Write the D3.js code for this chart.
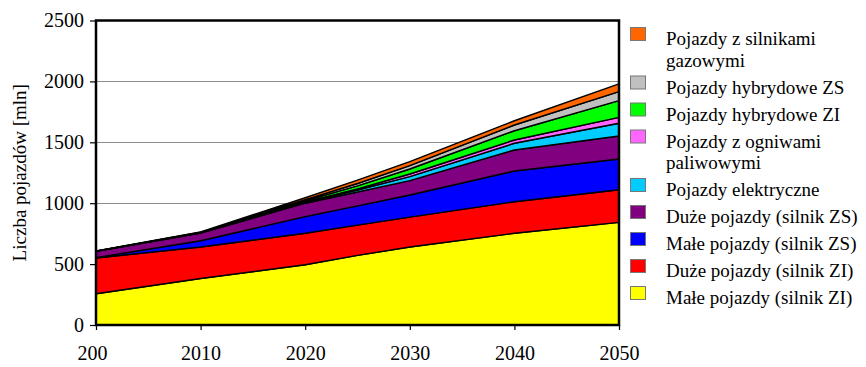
<!DOCTYPE html>
<html>
<head>
<meta charset="utf-8">
<script src="https://cdn.jsdelivr.net/npm/d3@7"></script>
<style>
body { margin:0; background:#fff; }
text { font-family:"Liberation Serif","Times New Roman",serif; fill:#000; }
</style>
</head>
<body>
<div id="chart"></div>
<script>
var w = 866
var h = 367
var margin = {top:20.5, right:247, bottom:42, left:96}

// lata
var years = [2000, 2010, 2020, 2025, 2030, 2040, 2050]

// wartosci [mln], od dolu stosu
var maleZI = [257, 382, 495, 572, 640, 753, 843]
var duzeZI = [293, 258, 258, 248, 246, 259, 267]
var maleZS = [3, 52, 137, 158, 181, 252, 253]
var duzeZS = [52, 63, 110, 114, 118, 173, 189]
var elektryczne = [0, 1, 7, 16, 33, 55, 104]
var ogniwa = [0, 1, 4, 10, 22, 27, 49]
var hybrydoweZI = [1, 2, 9, 24, 41, 76, 137]
var hybrydoweZS = [1, 2, 10, 20, 27, 47, 74]
var gazowe = [2, 4, 15, 28, 34, 35, 63]

var xTicks = [2000, 2010, 2020, 2030, 2040, 2050]
var yTicks = [0, 500, 1000, 1500, 2000, 2500]
var gridValues = [1000, 1500, 2000]

var series = [
	{key:"maleZI", label:["Małe pojazdy (silnik ZI)"], values:maleZI, color:"#ffff00"},
	{key:"duzeZI", label:["Duże pojazdy (silnik ZI)"], values:duzeZI, color:"#ff0000"},
	{key:"maleZS", label:["Małe pojazdy (silnik ZS)"], values:maleZS, color:"#0000ff"},
	{key:"duzeZS", label:["Duże pojazdy (silnik ZS)"], values:duzeZS, color:"#800080"},
	{key:"elektryczne", label:["Pojazdy elektryczne"], values:elektryczne, color:"#00ccff"},
	{key:"ogniwa", label:["Pojazdy z ogniwami","paliwowymi"], values:ogniwa, color:"#ff66ff"},
	{key:"hybrydoweZI", label:["Pojazdy hybrydowe ZI"], values:hybrydoweZI, color:"#00ff00"},
	{key:"hybrydoweZS", label:["Pojazdy hybrydowe ZS"], values:hybrydoweZS, color:"#c0c0c0"},
	{key:"gazowe", label:["Pojazdy z silnikami","gazowymi"], values:gazowe, color:"#ff6600"}
]

var table = years.map(function(y,i){
	var row = {year:y}
	series.forEach(function(s){ row[s.key] = s.values[i] })
	return row
})

var stack = d3.stack().keys(series.map(function(s){return s.key}))
var layers = stack(table)

var x = d3.scaleLinear().domain([2000,2050]).range([margin.left, w-margin.right])
var y = d3.scaleLinear().domain([0,2500]).range([h-margin.bottom, margin.top])

var svg = d3.select("#chart").append("svg").attr("width",w).attr("height",h)

// siatka
svg.selectAll(".grid")
.data(gridValues)
.enter()
.append("line")
.attr("class","grid")
.attr("x1",x(2000)).attr("x2",x(2050))
.attr("y1",function(d){return Math.round(y(d))+0.5})
.attr("y2",function(d){return Math.round(y(d))+0.5})
.attr("stroke","#8c8c8c")
.attr("stroke-width",1.2)

var area = d3.area()
.x(function(d){return x(d.data.year)})
.y0(function(d){return y(d[0])})
.y1(function(d){return y(d[1])})

svg.selectAll(".layer")
.data(layers)
.enter()
.append("path")
.attr("class","layer")
.attr("d",area)
.attr("fill",function(d,i){return series[i].color})
.attr("stroke","#000")
.attr("stroke-width",1.4)
.attr("stroke-linejoin","round")

// ramka
svg.append("rect")
.attr("x",x(2000)).attr("y",y(2500))
.attr("width",x(2050)-x(2000)).attr("height",y(0)-y(2500))
.attr("fill","none")
.attr("stroke","#000")
.attr("stroke-width",2.5)

var yAxis = svg.append("g")
.attr("transform","translate("+x(2000)+",0)")
.call(d3.axisLeft(y).tickValues(yTicks).tickSize(6).tickPadding(6).tickFormat(d3.format("d")))
yAxis.select(".domain").remove()
yAxis.selectAll("text").style("font-size","20px").attr("fill","#000")
yAxis.selectAll("line").attr("stroke","#000").attr("stroke-width",1.2)

var xAxis = svg.append("g")
.attr("transform","translate(0,"+y(0)+")")
.call(d3.axisBottom(x).tickValues(xTicks).tickSize(5).tickPadding(16)
	.tickFormat(function(d){ return d===2000 ? "200" : String(d) }))
xAxis.select(".domain").remove()
xAxis.selectAll("text").style("font-size","20px").attr("fill","#000")
xAxis.selectAll("line").attr("stroke","#000").attr("stroke-width",1.2)
xAxis.selectAll(".tick").filter(function(d){return d===2000}).select("text").attr("dx",-4)

// opis osi Y
svg.append("text")
.attr("transform","translate(26,"+((y(0)+y(2500))/2)+") rotate(-90)")
.attr("text-anchor","middle")
.style("font-size","19px")
.text("Liczba pojazdów [mln]")

// legenda (od gory: odwrotnie niz stos)
var legendItems = series.slice().reverse()
var ly = 27
legendItems.forEach(function(s){
	var g = svg.append("g").attr("transform","translate(630,"+ly+")")
	g.append("rect")
	.attr("x",0.5).attr("y",0.5)
	.attr("width",15).attr("height",13)
	.attr("fill",s.color)
	.attr("stroke","#777")
	.attr("stroke-width",1)
	s.label.forEach(function(t,j){
		g.append("text")
		.attr("x",36)
		.attr("y",18+j*21.5)
		.style("font-size","19px")
		.text(t)
	})
	ly += 27 + (s.label.length-1)*21.5
})
</script>
</body>
</html>
